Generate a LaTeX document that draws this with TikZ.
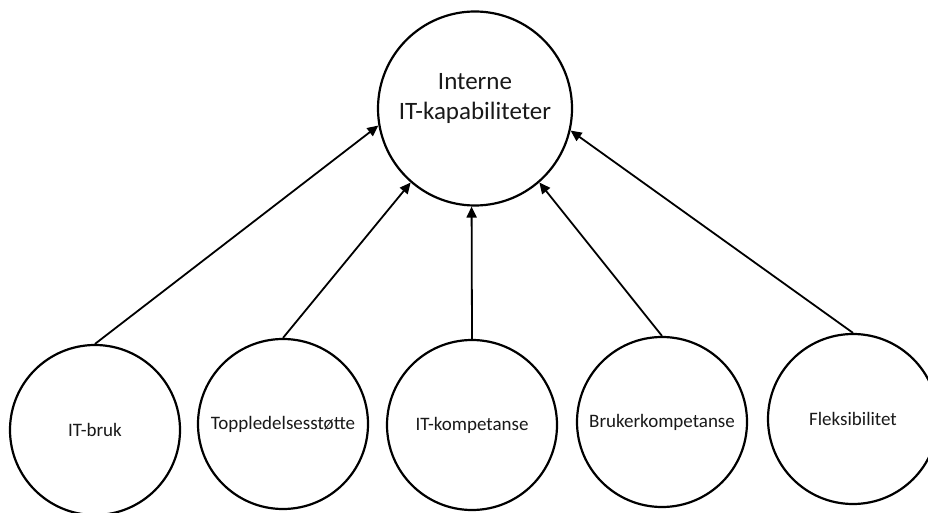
\documentclass[tikz,border=0pt]{standalone}
\usepackage{fontspec}
\setmainfont{Carlito}
\usetikzlibrary{arrows.meta}
\begin{document}
\begin{tikzpicture}[x=1pt,y=-1pt,
  bubble/.style={circle,draw=black,line width=2.2pt,minimum size=170pt,inner sep=0pt,
    font=\fontsize{19}{23}\selectfont,text=black!90},
  link/.style={-{Triangle[length=11pt,width=10pt]},line width=1.8pt}]
\clip (0,0) rectangle (928,513);
\fill[white] (0,0) rectangle (928,513);

% central construct
\node[circle,draw=black,line width=2.2pt,minimum size=194pt,inner sep=0pt] (top) at (475,108.5) {};
\node[align=center,font=\fontsize{25}{30}\selectfont,text=black!90] (toptext) at (475,98)
  {Interne\\IT-kapabiliteter};

% contributing factors
\node[bubble] (bruk)   at (95,430)  {IT-bruk};
\node[bubble] (topp)   at (283,424) {Toppledelsesstøtte};
\node[bubble] (komp)   at (472,425) {IT-kompetanse};
\node[bubble] (bruker) at (662,422) {Brukerkompetanse};
\node[bubble] (flex)   at (853,419) {Fleksibilitet};

% influence arrows
\draw[link] (bruk.north)   -- (top.190.8);
\draw[link] (topp.north)   -- (top.229.8);
\draw[link] (komp.north)   -- (top.268);
\draw[link] (bruker.north) -- (top.311.6);
\draw[link] (flex.north)   -- (top.347.5);
\end{tikzpicture}
\end{document}
